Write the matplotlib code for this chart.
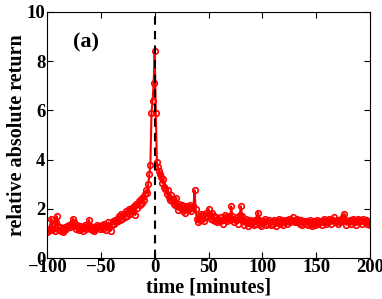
import numpy as np
import matplotlib.pyplot as plt

plt.rcParams['font.family'] = 'Liberation Serif'
plt.rcParams['font.weight'] = 'bold'

# relative absolute return, one value per minute from -100 to 200
before = [
    1.05, 1.10, 1.20, 1.15, 1.60, 1.35, 1.20, 1.10, 1.45, 1.70,
    1.30, 1.15, 1.25, 1.10, 1.20, 1.05, 1.15, 1.25, 1.20, 1.30,
    1.35, 1.25, 1.40, 1.30, 1.60, 1.45, 1.30, 1.20, 1.35, 1.25,
    1.15, 1.30, 1.20, 1.10, 1.25, 1.35, 1.20, 1.30, 1.25, 1.55,
    1.30, 1.20, 1.15, 1.25, 1.10, 1.20, 1.35, 1.25, 1.30, 1.20,
    1.25, 1.35, 1.20, 1.40, 1.30, 1.15, 1.25, 1.45, 1.30, 1.10,
    1.35, 1.50, 1.40, 1.55, 1.45, 1.60, 1.50, 1.70, 1.55, 1.80,
    1.60, 1.75, 1.65, 1.90, 1.70, 1.85, 2.00, 1.80, 1.95, 2.05,
    1.90, 2.10, 1.75, 2.20, 2.05, 2.30, 2.15, 2.40, 2.25, 2.50,
    2.35, 2.60, 2.75, 2.65, 3.00, 3.40, 3.80, 5.90, 6.40, 7.10,
]
peak = [8.40]
after = [
    5.90, 3.90, 3.70, 3.55, 3.40, 3.30, 3.05, 3.20, 2.90, 2.80,
    2.60, 2.75, 2.50, 2.35, 2.55, 2.30, 2.40, 2.20, 2.15, 2.45,
    2.10, 1.95, 2.20, 2.05, 2.15, 1.90, 2.10, 1.85, 2.00, 2.10,
    1.95, 2.05, 2.15, 1.90, 2.05, 2.10, 2.75, 2.00, 1.60, 1.45,
    1.70, 1.55, 1.80, 1.60, 1.75, 1.50, 1.65, 1.85, 1.70, 2.00,
    1.75, 1.60, 1.85, 1.55, 1.70, 1.50, 1.65, 1.45, 1.60, 1.55,
    1.50, 1.65, 1.40, 1.55, 1.75, 1.60, 1.50, 1.70, 1.65, 1.55,
    2.10, 1.70, 1.60, 1.45, 1.55, 1.65, 1.40, 1.60, 1.75, 2.10,
    1.70, 1.55, 1.35, 1.50, 1.60, 1.45, 1.30, 1.55, 1.40, 1.50,
    1.45, 1.35, 1.55, 1.40, 1.60, 1.85, 1.55, 1.40, 1.30, 1.50,
    1.45, 1.60, 1.35, 1.50, 1.40, 1.55, 1.45, 1.35, 1.50, 1.40,
    1.55, 1.45, 1.30, 1.50, 1.60, 1.40, 1.45, 1.55, 1.35, 1.50,
    1.45, 1.55, 1.40, 1.50, 1.60, 1.45, 1.55, 1.65, 1.50, 1.45,
    1.55, 1.60, 1.45, 1.50, 1.40, 1.55, 1.35, 1.45, 1.50, 1.40,
    1.50, 1.35, 1.45, 1.55, 1.40, 1.30, 1.45, 1.50, 1.35, 1.45,
    1.55, 1.40, 1.50, 1.45, 1.35, 1.50, 1.60, 1.45, 1.40, 1.55,
    1.45, 1.60, 1.50, 1.40, 1.55, 1.65, 1.50, 1.45, 1.55, 1.40,
    1.50, 1.45, 1.60, 1.55, 1.65, 1.80, 1.55, 1.35, 1.50, 1.45,
    1.55, 1.40, 1.50, 1.60, 1.45, 1.55, 1.35, 1.50, 1.60, 1.45,
    1.55, 1.40, 1.60, 1.50, 1.45, 1.55, 1.40, 1.50, 1.45, 1.35,
]
ret = np.array(before + peak + after)
t = np.arange(-100, 201)

fig = plt.figure(figsize=(3.82, 2.99), dpi=100)
ax = fig.add_axes([0.123, 0.137, 0.846, 0.823])

ax.plot(t, ret, '-o', color='red', lw=1.5, ms=4, mfc='none', mew=1.2)
ax.axvline(0, color='black', ls='--', lw=1.5, dashes=(4, 3))

ax.set_xlim(-100, 200)
ax.set_ylim(0, 10)
ax.set_xticks([-100, -50, 0, 50, 100, 150, 200])
ax.set_yticks([0, 2, 4, 6, 8, 10])
ax.tick_params(direction='in', top=True, right=True, labelsize=13.5, length=4, pad=1)
for lab in ax.get_xticklabels() + ax.get_yticklabels():
    lab.set_fontweight('bold')

ax.set_xlabel('time [minutes]', fontsize=14.5, fontweight='bold', labelpad=1)
ax.set_ylabel('relative absolute return', fontsize=14.5, fontweight='bold', labelpad=0)
ax.text(-76, 8.55, '(a)', fontsize=16, fontweight='bold')

fig.savefig('out.png', dpi=100)
